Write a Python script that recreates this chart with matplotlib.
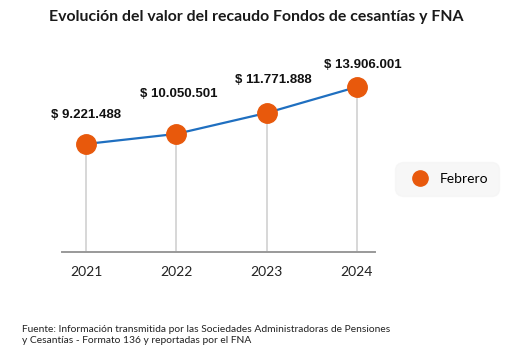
import matplotlib
matplotlib.use("Agg")
import matplotlib.pyplot as plt
from matplotlib.lines import Line2D

years = ["2021", "2022", "2023", "2024"]
values = [9221488, 10050501, 11771888, 13906001]
labels = ["$ 9.221.488", "$ 10.050.501", "$ 11.771.888", "$ 13.906.001"]
series_name = "Febrero"

orange = "#E8590C"
blue = "#1F6FC0"

fig = plt.figure(figsize=(5.13, 3.57), dpi=100)
ax = fig.add_axes([0.121, 0.294, 0.610, 0.538])

x = list(range(len(years)))

# vertical lines from base to each point
for xi, v in zip(x, values):
    ax.plot([xi, xi], [0, v], color="#d4d4d4", lw=1.3, zorder=1)

ax.plot(x, values, color=blue, lw=1.6, zorder=2)
ax.plot(x, values, "o", color=orange, ms=14, zorder=3)

# value labels (offsets in points, as placed in the original)
offsets = [(0, 21), (2, 29), (5, 24), (4, 16)]
for xi, v, lab, off in zip(x, values, labels, offsets):
    ax.annotate(lab, (xi, v), xytext=off, textcoords="offset points",
                ha="center", va="center", fontsize=9.5, fontweight="bold",
                family="Liberation Sans", color="#111111")

ax.set_xlim(-0.266, 3.2)
ax.set_ylim(350000, 16120000)
ax.set_xticks(x)
ax.set_xticklabels(years, fontsize=10, family="Lato", color="#222222")
ax.tick_params(axis="x", length=0, pad=10)
ax.set_yticks([])
for s in ["top", "right", "left"]:
    ax.spines[s].set_visible(False)
ax.spines["bottom"].set_color("#999999")
ax.spines["bottom"].set_linewidth(1.4)

fig.text(0.5, 0.952, "Evolución del valor del recaudo Fondos de cesantías y FNA",
         ha="center", va="center", fontsize=11.4, fontweight="bold",
         family="Lato", color="#1a1a1a")

handle = Line2D([], [], marker="o", ls="", color=orange, ms=11)
leg = fig.legend([handle], [series_name], loc="center",
                 bbox_to_anchor=(0.872, 0.498), frameon=True,
                 prop={"family": "Lato", "size": 10}, handletextpad=0.4,
                 borderpad=0.8, fancybox=True)
frame = leg.get_frame()
frame.set_facecolor("#f5f5f5")
frame.set_edgecolor("#f5f5f5")
frame.set_boxstyle("round", pad=0, rounding_size=0.6)

fig.text(0.043, 0.062,
         "Fuente: Información transmitida por las Sociedades Administradoras de Pensiones\n"
         "y Cesantías - Formato 136 y reportadas por el FNA",
         ha="left", va="center", fontsize=7.4, family="Lato",
         color="#222222", linespacing=1.35)

fig.savefig("out.png", dpi=100, facecolor="white")
